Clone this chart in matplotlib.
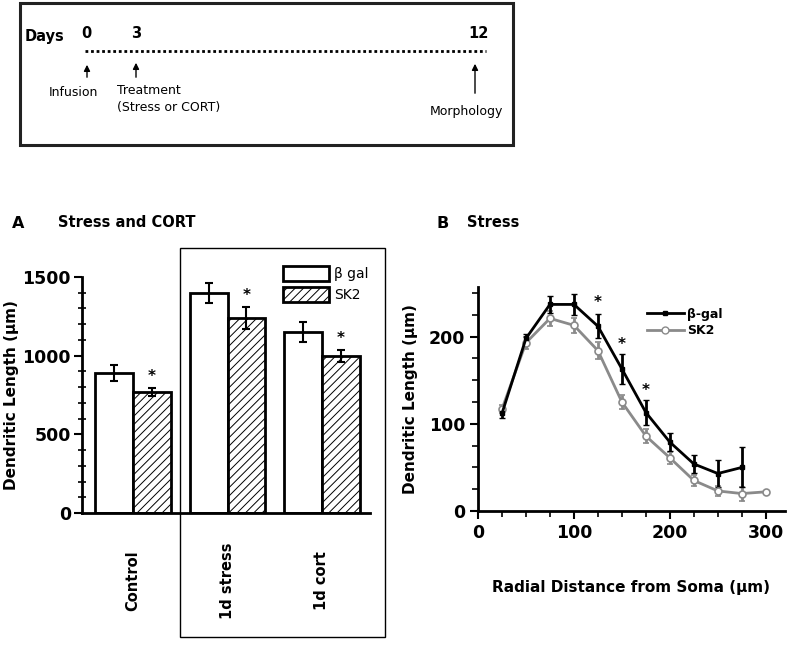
import matplotlib.pyplot as plt
from matplotlib.patches import Rectangle, FancyArrowPatch
from matplotlib.lines import Line2D
import numpy as np

# ---- data ----
groups = ['Control', '1d stress', '1d cort']
bgal_len = [890, 1398, 1150]
bgal_err = [50, 62, 62]
sk2_len = [770, 1240, 998]
sk2_err = [25, 70, 40]

radius = [25, 50, 75, 100, 125, 150, 175, 200, 225, 250, 275]
bgal_sholl = [112, 198, 237, 237, 212, 163, 113, 79, 54, 43, 50]
bgal_sholl_err = [5, 5, 10, 12, 14, 17, 14, 10, 10, 15, 23]
radius_sk2 = [25, 50, 75, 100, 125, 150, 175, 200, 225, 250, 275, 300]
sk2_sholl = [117, 193, 221, 213, 184, 125, 86, 61, 35, 23, 20, 22]
sk2_sholl_err = [5, 7, 9, 9, 10, 8, 8, 7, 6, 6, 8, 0]

timeline_days = [0, 3, 12]

W, H = 788, 647
plt.rcParams['font.family'] = ['DejaVu Sans']
plt.rcParams['hatch.linewidth'] = 0.7
fig = plt.figure(figsize=(W / 100, H / 100), dpi=100)


def px(x, y):
    return x / W, 1 - y / H


def axes_px(x0, y0, x1, y1):
    return fig.add_axes([x0 / W, 1 - y1 / H, (x1 - x0) / W, (y1 - y0) / H])


# ---- timeline box ----
fig.add_artist(Rectangle(px(20, 145), 493 / W, 142 / H, transform=fig.transFigure,
                         fill=False, lw=2.2, ec='#222222'))
fig.text(*px(25, 37), 'Days', fontsize=10.5, fontweight='bold', va='center')
day_x = [86, 136, 478]
for d, xx in zip(timeline_days, day_x):
    fig.text(*px(xx, 34), str(d), fontsize=10.5, fontweight='bold', va='center', ha='center')
fig.add_artist(Line2D([85 / W, 486 / W], [1 - 51 / H] * 2, transform=fig.transFigure,
                      color='black', lw=2, linestyle=(0, (1, 1))))
for xx, y0, y1 in [(87, 80, 62), (136, 80, 60), (475, 96, 61)]:
    fig.add_artist(FancyArrowPatch(px(xx, y0), px(xx, y1), transform=fig.transFigure,
                                   arrowstyle='-|>', mutation_scale=9, lw=1, color='black'))
fig.text(*px(49, 93), 'Infusion', fontsize=9, va='center')
fig.text(*px(117, 90), 'Treatment', fontsize=9, va='center')
fig.text(*px(117, 108), '(Stress or CORT)', fontsize=9, va='center')
fig.text(*px(430, 111), 'Morphology', fontsize=9, va='center')

# ---- panel A ----
axA = axes_px(82, 277, 370, 513)
xpos = np.arange(len(groups))
bw = 0.4
axA.bar(xpos - bw / 2, bgal_len, bw, yerr=bgal_err, color='white', edgecolor='black',
        lw=2, capsize=3, error_kw=dict(lw=1.5, capthick=1.5), label='\u03b2 gal')
axA.bar(xpos + bw / 2, sk2_len, bw, yerr=sk2_err, color='white', edgecolor='black',
        lw=2, hatch='////', capsize=3, error_kw=dict(lw=1.5, capthick=1.5), label='SK2')
for xx, v, e in zip(xpos, sk2_len, sk2_err):
    axA.text(xx + bw / 2, v + e + 25, '*', ha='center', va='bottom', fontsize=11,
             fontweight='bold')
axA.set_xlim((82 - 133) / 94.5, (370 - 133) / 94.5)
axA.set_ylim(0, 1500)
axA.set_yticks([0, 500, 1000, 1500])
axA.set_yticks(np.arange(0, 1501, 100), minor=True)
axA.tick_params(axis='y', which='major', direction='out', length=6, width=1.5,
                labelsize=12.5, pad=2)
axA.tick_params(axis='y', which='minor', direction='inout', length=6, width=1.2)
for t in axA.get_yticklabels():
    t.set_fontweight('bold')
axA.set_xticks([])
axA.spines[['top', 'right']].set_visible(False)
axA.spines['left'].set_linewidth(2)
axA.spines['bottom'].set_linewidth(2)
axA.set_ylabel('Dendritic Length (\u00b5m)', fontsize=11, fontweight='bold')
axA.yaxis.set_label_coords((19 - 82) / 288, 0.5)
for xx, g in zip(xpos, groups):
    axA.text(xx, -0.285, g, rotation=90, ha='center', va='center', fontsize=10.5,
             fontweight='bold', transform=axA.get_xaxis_transform())
axA.legend(loc='upper left', bbox_to_anchor=((276 - 82) / 288, 1.075), frameon=False,
           fontsize=10, handlelength=3.3, handleheight=1.3, borderpad=0,
           labelspacing=0.4, handletextpad=0.4)
fig.text(*px(12, 224), 'A', fontsize=11.5, fontweight='bold', va='center')
fig.text(*px(58, 222), 'Stress and CORT', fontsize=10.5, fontweight='bold', va='center')
fig.add_artist(Rectangle(px(180, 637), 205 / W, 389 / H, transform=fig.transFigure,
                         fill=False, lw=1, ec='black'))

# ---- panel B ----
axB = axes_px(478, 287, 785, 511)
grey = '#8a8a8a'
axB.errorbar(radius_sk2, sk2_sholl, yerr=sk2_sholl_err, color=grey, lw=2, marker='o',
             ms=5, mfc='white', mec=grey, mew=1.2, capsize=2, elinewidth=2)
axB.errorbar(radius, bgal_sholl, yerr=bgal_sholl_err, color='black', lw=2, marker='s',
             ms=3, capsize=2, elinewidth=2)
for xx, y in [(125, 239), (150, 191), (175, 138)]:
    axB.text(xx, y, '*', ha='center', va='center', fontsize=11, fontweight='bold')
axB.set_xlim(0, 320)
axB.set_ylim(0, 257)
axB.set_xticks([0, 100, 200, 300])
axB.set_xticks(np.arange(0, 301, 25), minor=True)
axB.set_yticks([0, 100, 200])
axB.set_yticks(np.arange(0, 251, 25), minor=True)
axB.tick_params(which='major', direction='out', length=6, width=1.5, labelsize=12.5, pad=3)
axB.tick_params(which='minor', direction='out', length=4, width=1.2)
for t in axB.get_xticklabels() + axB.get_yticklabels():
    t.set_fontweight('bold')
axB.spines[['top', 'right']].set_visible(False)
axB.spines['left'].set_linewidth(2)
axB.spines['bottom'].set_linewidth(2)
axB.set_ylabel('Dendritic Length (\u00b5m)', fontsize=11, fontweight='bold')
axB.yaxis.set_label_coords((418 - 478) / 307, 0.5)
axB.set_xlabel('Radial Distance from Soma (\u00b5m)', fontsize=11, fontweight='bold',
               labelpad=28)
handles = [Line2D([], [], color='black', lw=2, marker='s', ms=3),
           Line2D([], [], color=grey, lw=2, marker='o', ms=5, mfc='white', mec=grey)]
axB.legend(handles, ['\u03b2-gal', 'SK2'], loc='upper left',
           bbox_to_anchor=((641 - 478) / 307, 0.935), frameon=False,
           handlelength=2.9, borderpad=0, labelspacing=0.25, handletextpad=0.3,
           prop=dict(size=9, weight='bold'))
fig.text(*px(437, 224), 'B', fontsize=11.5, fontweight='bold', va='center')
fig.text(*px(467, 222), 'Stress', fontsize=10.5, fontweight='bold', va='center')

fig.savefig('out.png', dpi=100)
